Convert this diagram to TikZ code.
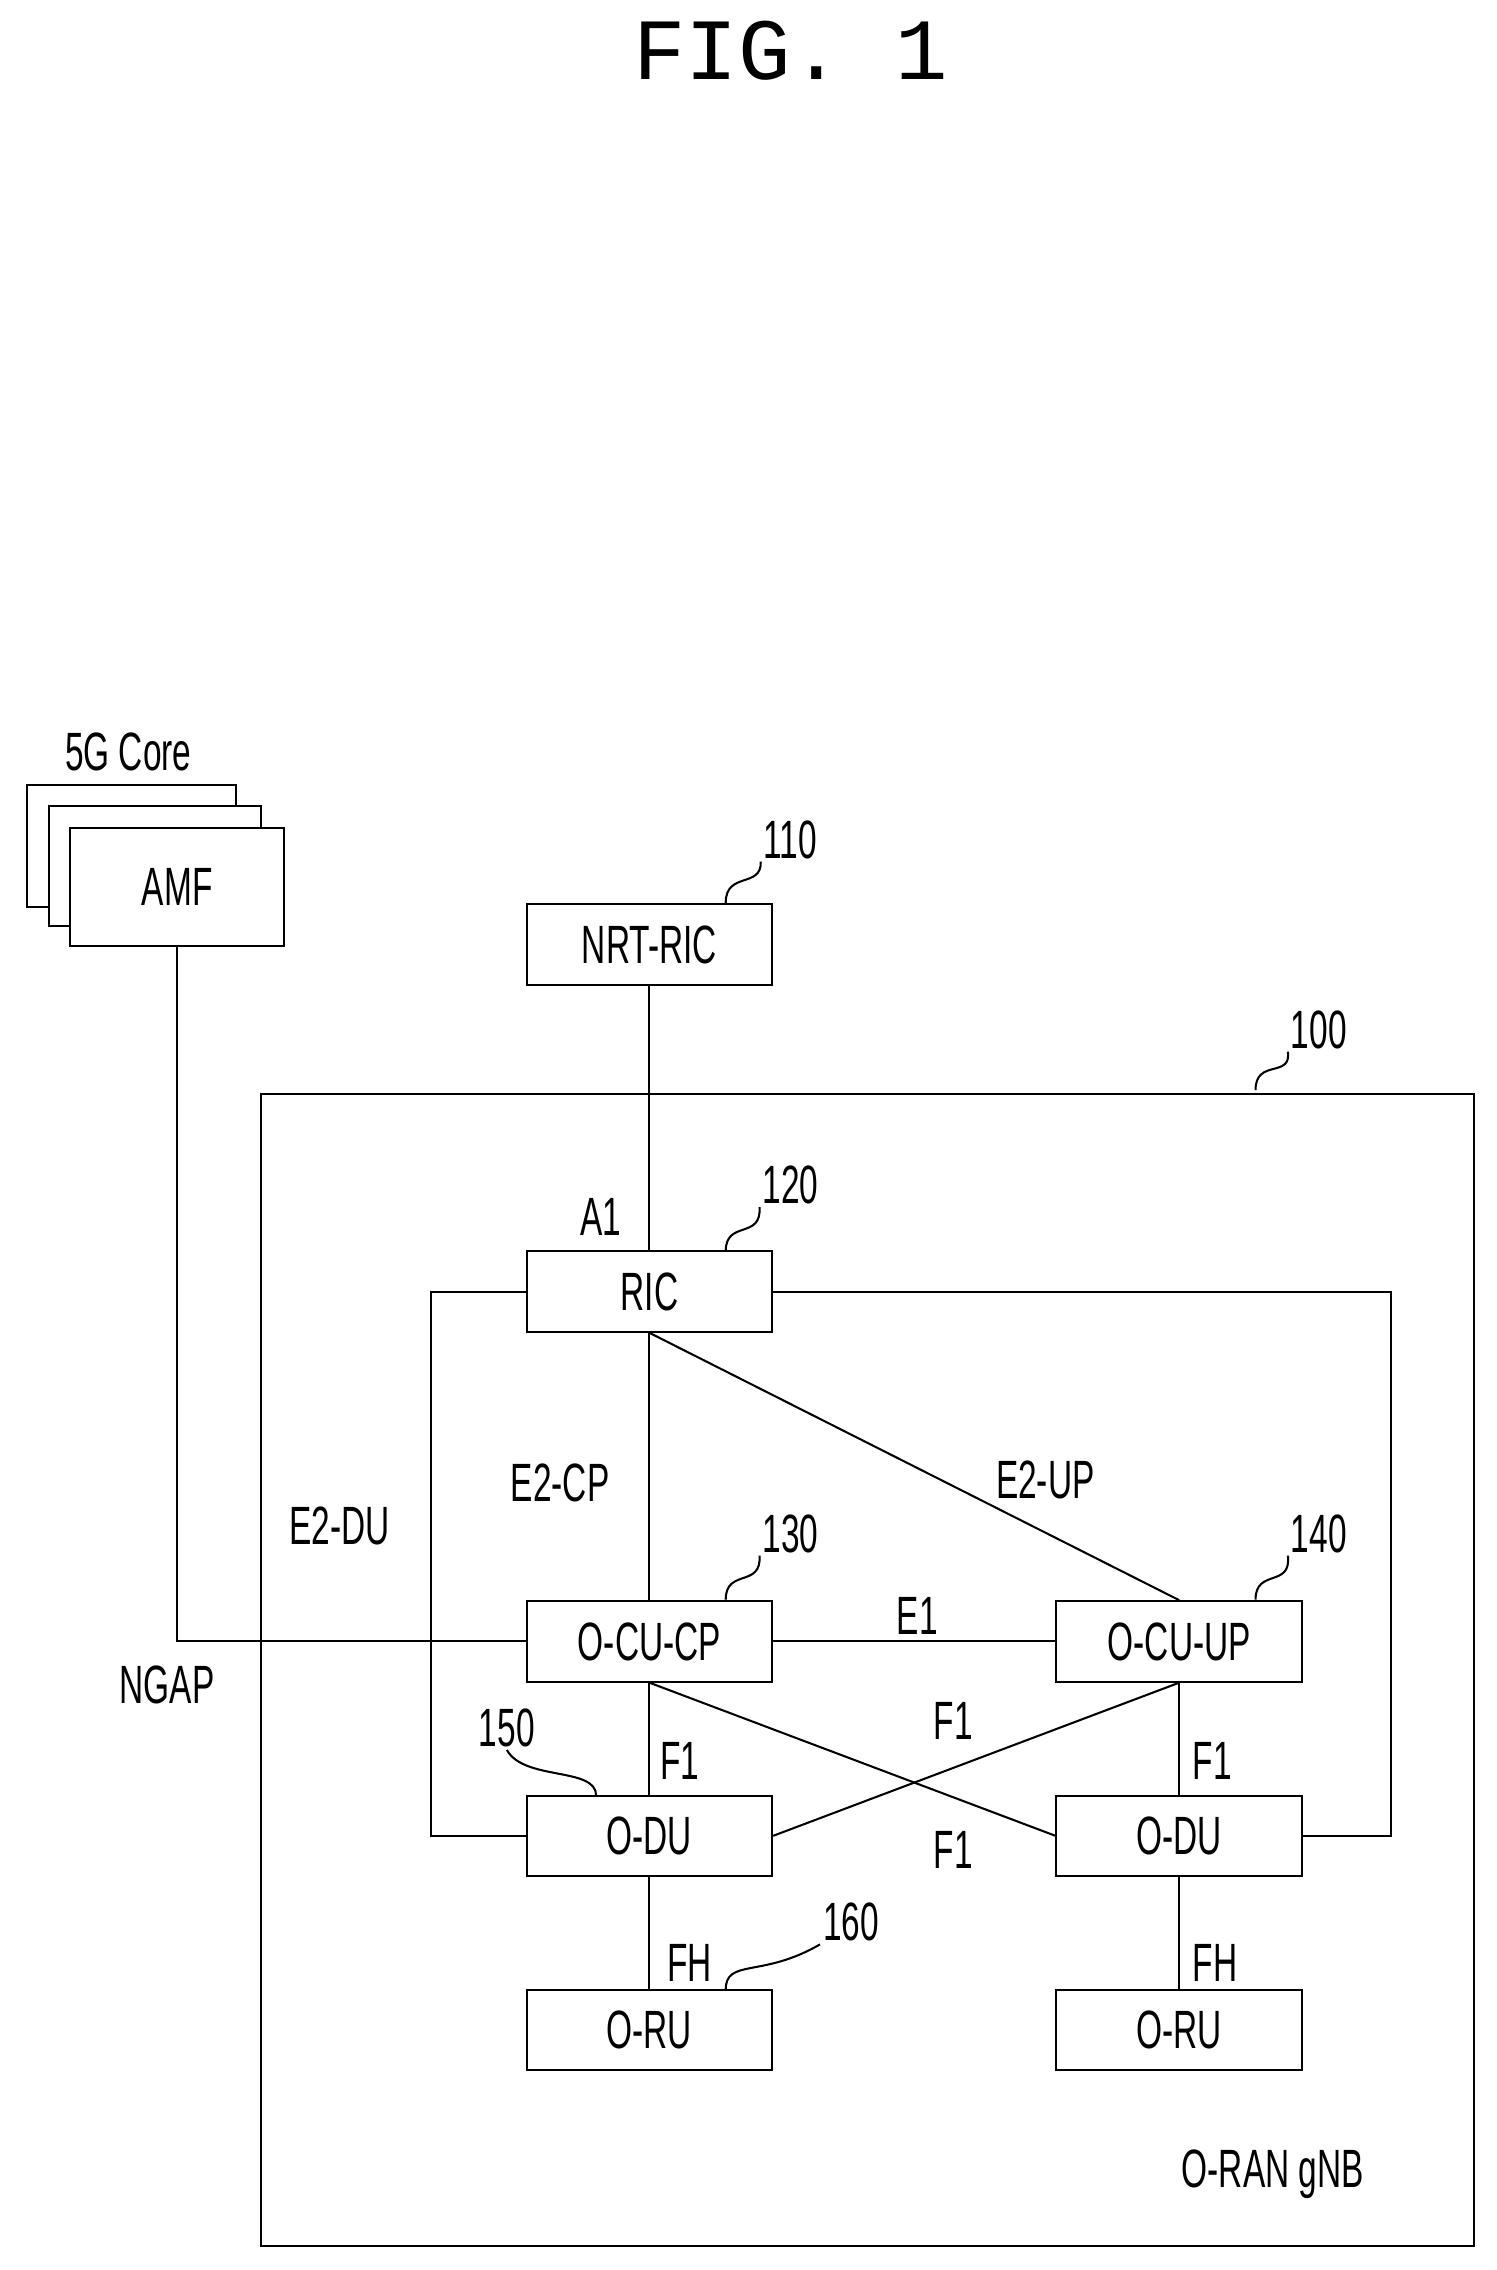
\documentclass[tikz,border=0pt]{standalone}
\usepackage{fontspec}
\setmainfont{Liberation Sans}[FakeStretch=0.62]
\newfontfamily\titlefont{Liberation Mono}
\begin{document}
\begin{tikzpicture}[x=0.0197cm,y=-0.0197cm,
 box/.style={draw,line width=0.8pt,minimum width=3.36cm,minimum height=1.1cm,inner sep=0pt,font=\fontsize{21}{22}\selectfont},
 lbl/.style={font=\fontsize{21}{22}\selectfont,inner sep=1pt},
 ln/.style={line width=0.8pt}]
\useasboundingbox (-4.06,-5.08) rectangle (1035.5,1571.6);
\node[font=\titlefont\fontsize{34}{36}\selectfont] (title) at (545,30) {FIG. 1};
% 5G core
\node[lbl] (core) at (85,517) {5G Core};
\draw[ln,fill=white] (15,540) rectangle (160,625);
\draw[ln,fill=white] (30,555) rectangle (177,638);
\node[box,minimum width=2.92cm,minimum height=1.62cm,fill=white] (amf) at (119,611) {AMF};
% big box
\draw[ln] (177,755) rectangle (1020,1555);
\node[lbl] (gnb) at (880,1505) {O-RAN gNB};
\node[box] (nrt) at (447,651) {NRT-RIC};
\node[box] (ric) at (447,892) {RIC};
\node[box] (cucp) at (447,1135) {O-CU-CP};
\node[box] (cuup) at (815,1135) {O-CU-UP};
\node[box] (dul) at (447,1270) {O-DU};
\node[box] (dur) at (815,1270) {O-DU};
\node[box] (rul) at (447,1405) {O-RU};
\node[box] (rur) at (815,1405) {O-RU};
% connectors
\draw[ln] (nrt) -- (ric);
\draw[ln] (ric) -- (cucp);
\draw[ln] (ric.south) -- (cuup.north);
\draw[ln] (cucp) -- (cuup);
\draw[ln] (cucp) -- (dul);
\draw[ln] (cuup) -- (dur);
\draw[ln] (cucp.south) -- (dur.west);
\draw[ln] (dul.east) -- (cuup.south);
\draw[ln] (dul) -- (rul);
\draw[ln] (dur) -- (rur);
\draw[ln] (ric.west) -- (295,892) |- (dul.west);
\draw[ln] (ric.east) -- (962,892) |- (dur.east);
\draw[ln] (amf.south) |- (cucp.west);
% labels
\node[lbl] (a1) at (413,840) {A1};
\node[lbl] (e2cp) at (385,1025) {E2-CP};
\node[lbl] (e2up) at (722,1023) {E2-UP};
\node[lbl] (e2du) at (232,1055) {E2-DU};
\node[lbl] (e1) at (633,1117) {E1};
\node[lbl] (ngap) at (112,1165) {NGAP};
\node[lbl] (f1a) at (468,1218) {F1};
\node[lbl] (f1b) at (838,1218) {F1};
\node[lbl] (f1c) at (658,1190) {F1};
\node[lbl] (f1d) at (658,1280) {F1};
\node[lbl] (fha) at (475,1358) {FH};
\node[lbl] (fhb) at (840,1358) {FH};
% reference numerals
\node[lbl] (n110) at (545,578) {110};
\node[lbl] (n100) at (912,710) {100};
\node[lbl] (n120) at (545,818) {120};
\node[lbl] (n130) at (545,1060) {130};
\node[lbl] (n140) at (912,1060) {140};
\node[lbl] (n150) at (348,1195) {150};
\node[lbl] (n160) at (587,1330) {160};
\draw[ln] (500,622) .. controls (500,600) and (525,612) .. (n110.south west);
\draw[ln] (868,752) .. controls (868,730) and (893,744) .. (n100.south west);
\draw[ln] (500,864) .. controls (500,842) and (525,856) .. (n120.south west);
\draw[ln] (500,1106) .. controls (500,1084) and (525,1098) .. (n130.south west);
\draw[ln] (868,1106) .. controls (868,1084) and (893,1098) .. (n140.south west);
\draw[ln] (410,1242) .. controls (410,1222) and (360,1232) .. (n150.south);
\draw[ln] (500,1377) .. controls (500,1355) and (525,1369) .. (n160.south west);
\end{tikzpicture}
\end{document}
